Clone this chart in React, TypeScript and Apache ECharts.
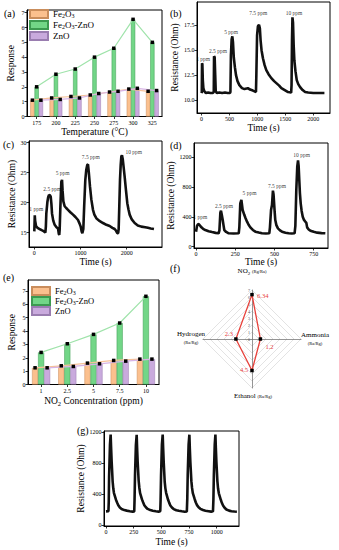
import React, { useEffect, useRef } from 'react';
import * as echarts from 'echarts';

const FONT = 'Liberation Serif';

// (a) response vs temperature
const tempCategories = ['175', '200', '225', '250', '275', '300', '325'];
const tempFe2O3 = [1.1, 1.25, 1.35, 1.45, 1.65, 1.85, 1.7];
const tempComposite = [2.0, 2.85, 3.2, 4.0, 4.6, 6.55, 5.0];
const tempZnO = [1.1, 1.15, 1.25, 1.55, 1.7, 1.9, 1.75];

// (e) response vs NO2 concentration
const concCategories = ['1', '2.5', '5', '7.5', '10'];
const concFe2O3 = [1.25, 1.4, 1.6, 1.8, 1.9];
const concComposite = [2.4, 3.05, 3.75, 4.6, 6.6];
const concZnO = [1.25, 1.35, 1.55, 1.75, 1.9];

const responseTicks = [0, 1, 2, 3, 4, 5, 6, 7];
const ppmLabels = ['1 ppm', '2.5 ppm', '5 ppm', '7.5 ppm', '10 ppm'];

// (b) Fe2O3 dynamic resistance
const bCurve = [
  [0, 10.7], [6, 10.8], [10, 13.7], [16, 13.6], [24, 12.0], [34, 11.2], [50, 10.9], [80, 10.7], [120, 10.75], [160, 10.7],
  [200, 10.7], [220, 10.8], [225, 14.4], [236, 14.3], [246, 12.5], [255, 10.9], [275, 10.7], [320, 10.75], [370, 10.7],
  [420, 10.75], [470, 10.7], [510, 10.7], [518, 10.8], [527, 14.5], [540, 16.1], [552, 16.4], [564, 15.8], [578, 14.3],
  [598, 13.3], [618, 12.5], [645, 11.9], [678, 11.5], [725, 11.2], [770, 11.1], [808, 11.15], [830, 11.2], [870, 11.05],
  [920, 10.95], [960, 10.85], [975, 10.8], [982, 12.5], [995, 16.5], [1010, 17.4], [1030, 17.55], [1045, 17.2],
  [1058, 16.0], [1075, 15.0], [1100, 14.2], [1130, 13.5], [1160, 13.0], [1200, 12.6], [1250, 12.2], [1300, 11.9],
  [1340, 11.7], [1390, 11.45], [1430, 11.2], [1490, 11.0], [1550, 10.8], [1605, 10.75], [1612, 11.5], [1620, 16.0],
  [1628, 18.3], [1638, 17.8], [1650, 15.5], [1662, 14.0], [1682, 12.9], [1705, 12.0], [1732, 11.6], [1765, 11.3],
  [1810, 11.0], [1855, 10.8], [1910, 10.75], [2000, 10.7], [2100, 10.7], [2200, 10.7]
];
const bLabelAnchors = [[30, 14.1], [295, 14.95], [530, 16.85], [1016, 18.7], [1655, 18.77]];
const bXTicks = [0, 500, 1000, 1500, 2000];
const bYTicks = [10, 12.5, 15, 17.5];

// (c) ZnO dynamic resistance
const cCurve = [
  [0, 15.2], [5, 16.5], [10, 17.9], [18, 17.0], [37, 16.1], [70, 15.8], [116, 15.6], [160, 15.4], [210, 15.2], [239, 15.0],
  [250, 16.0], [260, 18.2], [283, 20.1], [300, 20.9], [318, 21.3], [340, 21.2], [355, 21.0], [370, 19.8], [383, 18.2],
  [410, 17.0], [441, 16.3], [480, 15.9], [513, 15.7], [530, 14.8], [540, 14.6], [549, 15.5], [565, 19.5], [585, 23.5],
  [600, 23.8], [612, 22.0], [629, 20.2], [657, 19.4], [690, 19.1], [729, 18.8], [780, 18.4], [838, 18.0], [890, 17.6],
  [946, 17.1], [980, 16.5], [1004, 16.0], [1025, 15.2], [1040, 14.9], [1055, 14.9], [1061, 15.6], [1080, 19.5],
  [1104, 23.8], [1125, 25.5], [1147, 26.3], [1162, 26.4], [1180, 25.0], [1205, 22.7], [1235, 20.5], [1270, 18.8],
  [1300, 18.0], [1342, 17.4], [1400, 17.0], [1487, 16.6], [1560, 16.3], [1631, 16.1], [1690, 15.8], [1739, 15.6],
  [1770, 15.3], [1797, 14.9], [1815, 14.9], [1826, 15.6], [1840, 19.5], [1855, 23.8], [1870, 26.3], [1884, 27.7],
  [1898, 27.9], [1915, 27.2], [1935, 25.8], [1956, 24.3], [1985, 22.0], [2013, 19.9], [2040, 18.8], [2064, 18.0],
  [2110, 17.2], [2172, 16.6], [2240, 16.2], [2316, 16.0], [2400, 15.9], [2460, 15.8], [2520, 15.7], [2590, 15.6]
];
const cLabelAnchors = [[43, 18.9], [390, 22.2], [614, 24.9], [1223, 27.6], [2154, 28.5]];
const cXTicks = [0, 1000, 2000];
const cYTicks = [15, 20, 25, 30];

// (d) Fe2O3-ZnO dynamic resistance
const dCurve = [
  [0, 200], [6, 278], [12, 300], [17, 305], [25, 285], [34, 260], [45, 240], [59, 224], [80, 208], [102, 197], [125, 186],
  [144, 180], [149, 220], [155, 457], [159, 483], [164, 430], [170, 358], [175, 290], [180, 224], [192, 198], [208, 180],
  [240, 178], [272, 180], [276, 260], [282, 582], [289, 627], [293, 560], [297, 493], [308, 425], [315, 385], [325, 336],
  [335, 295], [346, 260], [362, 225], [378, 202], [400, 190], [420, 180], [445, 178], [467, 180], [471, 260], [478, 493],
  [484, 559], [490, 752], [494, 700], [497, 604], [501, 470], [505, 358], [512, 290], [522, 246], [535, 220], [548, 202],
  [570, 188], [590, 180], [610, 178], [628, 180], [633, 280], [639, 761], [645, 1074], [650, 1160], [654, 1080],
  [658, 895], [662, 720], [667, 582], [673, 480], [680, 403], [688, 360], [697, 336], [703, 320], [708, 260], [718, 232],
  [729, 215], [750, 200], [772, 189], [800, 183], [824, 180]
];
const dLabelAnchors = [[27, 394], [178, 546], [341, 716], [516, 815], [673, 1231]];
const dXTicks = [0, 250, 500, 750];
const dYTicks = [0, 400, 800, 1200];

// (g) repeatability at 10 ppm
const gCurve = [
  [0, 175], [22, 178], [25, 300], [28, 620], [36, 1035], [42, 1165], [46, 1000], [51, 820], [60, 563], [66, 470], [72, 412],
  [90, 326], [100, 290], [111, 253], [125, 225], [141, 206], [165, 192], [187, 185], [215, 178], [241, 172],
  [255, 175], [258, 330], [262, 640], [270, 1030], [277, 1162], [281, 990], [286, 810], [295, 570], [301, 480], [308, 410],
  [325, 330], [335, 292], [346, 255], [360, 228], [376, 207], [400, 192], [422, 184], [450, 177], [476, 172],
  [490, 176], [493, 320], [497, 630], [505, 1040], [512, 1165], [516, 995], [521, 815], [530, 560], [536, 475], [543, 415],
  [560, 328], [570, 288], [581, 252], [595, 226], [611, 205], [635, 190], [657, 183], [685, 176], [711, 171],
  [730, 175], [734, 340], [738, 650], [746, 1035], [753, 1163], [757, 985], [762, 805], [771, 565], [777, 478], [784, 410],
  [801, 332], [811, 290], [822, 256], [836, 228], [852, 208], [876, 193], [898, 184], [926, 178], [950, 172],
  [966, 176], [970, 330], [974, 640], [982, 1040], [988, 1165], [992, 990], [997, 812], [1006, 562], [1012, 470],
  [1019, 408], [1036, 328], [1046, 286], [1057, 250], [1071, 222], [1087, 200], [1111, 185], [1133, 177], [1160, 173],
  [1182, 171]
];
const gXTicks = [0, 250, 500, 750, 1000];
const gYTicks = [0, 400, 800, 1200];

// (f) selectivity radar
const gasNames = ['NO2', 'Hydrogen', 'Ethanol', 'Ammonia'];
const gasRatios = ['(Rg/Ra)', '(Ra/Rg)', '(Ra/Rg)', '(Ra/Rg)'];
const gasValues = [6.34, 2.3, 4.5, 1.2];
const radarMax = 7;

const ORANGE = '#FBC08E';
const GREEN = '#72D687';
const PURPLE = '#C9AADD';

const subRich = {
  s: { fontSize: 6, fontFamily: FONT, color: '#000', verticalAlign: 'bottom', padding: [4, 0, 0, 0] },
};

function legendFormatter(name: string) {
  if (name === 'Fe2O3') return 'Fe{s|2}O{s|3}';
  if (name === 'Fe2O3-ZnO') return 'Fe{s|2}O{s|3}-ZnO';
  return name;
}

function valueAxis(gridIndex: number, min: number, max: number, ticks: number[], name: string, nameGap: number, fmt?: (v: number) => string) {
  return {
    type: 'value',
    gridIndex,
    min,
    max,
    name,
    nameLocation: 'middle',
    nameGap,
    nameTextStyle: { fontFamily: FONT, fontSize: 9.5, color: '#000' },
    axisLine: { show: true, onZero: false, lineStyle: { color: '#000', width: 1 } },
    axisTick: { show: true, inside: false, length: 2.5, customValues: ticks, lineStyle: { color: '#000', width: 0.8 } },
    axisLabel: {
      fontFamily: FONT, fontSize: 6, color: '#000', margin: 2.5, customValues: ticks,
      formatter: fmt ? fmt : (v: number) => String(v),
    },
    splitLine: { show: false },
  };
}

function categoryAxis(gridIndex: number, data: string[], name: string, nameGap: number) {
  return {
    type: 'category',
    gridIndex,
    data,
    name,
    nameLocation: 'middle',
    nameGap,
    nameTextStyle: { fontFamily: FONT, fontSize: 9.5, color: '#000', rich: { s: { fontSize: 6.5, fontFamily: FONT, verticalAlign: 'bottom', padding: [4, 0, 0, 0] } } },
    axisLine: { show: true, lineStyle: { color: '#000', width: 1 } },
    axisTick: { show: true, inside: false, length: 2.5, alignWithLabel: true, lineStyle: { color: '#000', width: 0.8 } },
    axisLabel: { fontFamily: FONT, fontSize: 6, color: '#000', margin: 3 },
    splitLine: { show: false },
  };
}

function overlayAxis(gridIndex: number, n: number) {
  return { type: 'value', gridIndex, min: -0.5, max: n - 0.5, show: false };
}

function bar(name: string, data: number[], color: string, border: string, xi: number, yi: number, width: string) {
  return {
    type: 'bar', name, data, xAxisIndex: xi, yAxisIndex: yi, barWidth: width, barGap: '0%',
    itemStyle: { color, borderColor: border, borderWidth: 0.5 },
  };
}

function trend(data: number[], offset: number, color: string, xi: number, yi: number) {
  return {
    type: 'line', xAxisIndex: xi, yAxisIndex: yi, z: 5,
    data: data.map((v, i) => [i + offset, v]),
    symbol: 'rect', symbolSize: 3.5,
    itemStyle: { color: '#000' },
    lineStyle: { color, width: 1.2 },
  };
}

function curve(data: number[][], xi: number, yi: number) {
  return {
    type: 'line', xAxisIndex: xi, yAxisIndex: yi, data, symbol: 'none',
    lineStyle: { color: '#111', width: 2.6 },
  };
}

const ppmLabelStyle = {
  show: true, position: 'inside', fontFamily: FONT, fontSize: 5.5,
  color: '#000', textBorderWidth: 0, textBorderColor: 'transparent',
};

function ppm(anchors: number[][], xi: number, yi: number) {
  return {
    type: 'scatter', xAxisIndex: xi, yAxisIndex: yi, symbolSize: 0, z: 6,
    itemStyle: { color: '#000' },
    data: anchors.map((a, i) => ({
      value: a, name: ppmLabels[i],
      itemStyle: { color: '#000' },
      label: { ...ppmLabelStyle, formatter: ppmLabels[i] },
    })),
    label: { ...ppmLabelStyle, formatter: (p: any) => p.name },
  };
}

function frame(left: number, top: number, width: number, height: number) {
  return { left, top, width, height, show: true, borderColor: '#000', borderWidth: 1, backgroundColor: 'transparent', containLabel: false, outerBoundsMode: 'none' };
}

function panelLetter(text: string, x: number, y: number) {
  return { type: 'text', x, y, style: { text, fontFamily: FONT, fontSize: 10, fill: '#000', align: 'left', verticalAlign: 'middle' } };
}

const RC = [252, 339];
const RR = 49;
const dirs = [[0, -1], [-1, 0], [0, 1], [1, 0]];
const valueLabelOffsets = [[5, 1, 'left'], [-3, -6, 'right'], [-4, -1, 'right'], [5, 7, 'left']];
const nameAnchors = [[252, 271], [191, 338], [253, 396], [315, 339]];

function radarGraphics() {
  const out: any[] = [];
  gasValues.forEach((v, i) => {
    const r = (RR * v) / radarMax;
    const px = RC[0] + dirs[i][0] * r;
    const py = RC[1] + dirs[i][1] * r;
    const off = valueLabelOffsets[i];
    out.push({
      type: 'text', x: px + (off[0] as number), y: py + (off[1] as number), z: 10,
      style: { text: String(v), fontFamily: FONT, fontSize: 6.5, fill: '#E8403A', align: off[2], verticalAlign: 'middle' },
    });
  });
  gasNames.forEach((n, i) => {
    const [x, y] = nameAnchors[i];
    const label = n === 'NO2' ? 'NO{s|2} {r|' + gasRatios[i] + '}' : n === 'Ethanol' ? n + ' {r|' + gasRatios[i] + '}' : n + '\n{r|' + gasRatios[i] + '}';
    out.push({
      type: 'text', x, y, z: 10,
      style: {
        text: label, fontFamily: FONT, fontSize: 7, fill: '#000', align: 'center', verticalAlign: 'middle', lineHeight: 9,
        rich: {
          s: { fontSize: 5, fontFamily: FONT, verticalAlign: 'bottom', padding: [3, 0, 0, 0] },
          r: { fontSize: 4.5, fontFamily: FONT },
        },
      },
    });
  });
  return out;
}

export default function App() {
  const ref = useRef<HTMLDivElement>(null);
  useEffect(() => {
    if (!ref.current) return;
    const chart = echarts.init(ref.current, undefined, { renderer: 'svg' });
    const option: any = {
      animation: false,
      backgroundColor: '#fff',
      textStyle: { fontFamily: FONT },
      grid: [
        frame(27, 10, 135, 106.5), // a
        frame(197, 2, 133, 111), // b
        frame(29, 141, 133, 106), // c
        frame(194, 143, 134, 105), // d
        frame(28, 280, 131, 104.5), // e
        frame(104, 431, 135, 95), // g
      ],
      xAxis: [
        categoryAxis(0, tempCategories, 'Temperature (°C)', 10),
        overlayAxis(0, tempCategories.length),
        valueAxis(1, -80, 2300, bXTicks, 'Time (s)', 10),
        valueAxis(2, -115, 2764, cXTicks, 'Time (s)', 10),
        valueAxis(3, -13, 841, dXTicks, 'Time (s)', 8),
        categoryAxis(4, concCategories, 'NO{s|2} Concentration (ppm)', 11),
        overlayAxis(4, concCategories.length),
        valueAxis(5, -18, 1201, gXTicks, 'Time (s)', 11),
      ],
      yAxis: [
        valueAxis(0, 0, 7.18, responseTicks, 'Response', 11),
        valueAxis(1, 8.7, 19.84, bYTicks, 'Resistance (Ohm)', 15, (v: number) => v.toFixed(1)),
        valueAxis(2, 12.6, 30.28, cYTicks, 'Resistance (Ohm)', 11),
        valueAxis(3, -17, 1392, dYTicks, 'Resistance (Ohm)', 14),
        valueAxis(4, 0, 7.82, responseTicks, 'Response', 11),
        valueAxis(5, -13, 1211, gYTicks, 'Resistance (Ohm)', 14),
      ],
      legend: [
        {
          data: ['Fe2O3', 'Fe2O3-ZnO', 'ZnO'], orient: 'vertical', left: 29, top: 9,
          itemWidth: 18, itemHeight: 8, itemGap: 1, icon: 'rect', padding: 0,
          formatter: legendFormatter,
          textStyle: { fontFamily: FONT, fontSize: 9, color: '#000', rich: subRich },
        },
        {
          data: ['Fe2O3', 'Fe2O3-ZnO', 'ZnO'], orient: 'vertical', left: 31, top: 286,
          itemWidth: 18, itemHeight: 8, itemGap: 0, icon: 'rect', padding: 0,
          formatter: legendFormatter,
          textStyle: { fontFamily: FONT, fontSize: 8.5, color: '#000', rich: subRich },
        },
      ],
      radar: {
        center: RC, radius: RR, startAngle: 90, shape: 'polygon', splitNumber: 7,
        indicator: gasNames.map((n, i) => ({
          name: n, max: radarMax, min: 0,
          ...(i === 0 ? { axisLabel: { show: true, fontSize: 4, color: '#444', fontFamily: FONT, margin: 2 } } : {}),
        })),
        axisName: { show: false },
        axisLabel: { show: false },
        splitLine: { lineStyle: { color: '#d0d0d0', width: 0.6 } },
        splitArea: { show: false },
        axisLine: { lineStyle: { color: '#7a7a7a', width: 0.8 } },
        axisTick: { show: false },
      },
      series: [
        bar('Fe2O3', tempFe2O3, ORANGE, '#c98d5c', 0, 0, '22%'),
        bar('Fe2O3-ZnO', tempComposite, GREEN, '#3c9a50', 0, 0, '22%'),
        bar('ZnO', tempZnO, PURPLE, '#9a7db0', 0, 0, '22%'),
        trend(tempFe2O3, -0.22, '#F6C29A', 1, 0),
        trend(tempZnO, 0.22, '#D8B4E4', 1, 0),
        trend(tempComposite, 0, '#9FE3AA', 1, 0),
        curve(bCurve, 2, 1),
        ppm(bLabelAnchors, 2, 1),
        curve(cCurve, 3, 2),
        ppm(cLabelAnchors, 3, 2),
        curve(dCurve, 4, 3),
        ppm(dLabelAnchors, 4, 3),
        bar('Fe2O3', concFe2O3, ORANGE, '#c98d5c', 5, 4, '23%'),
        bar('Fe2O3-ZnO', concComposite, GREEN, '#3c9a50', 5, 4, '23%'),
        bar('ZnO', concZnO, PURPLE, '#9a7db0', 5, 4, '23%'),
        trend(concFe2O3, -0.23, '#F6C29A', 6, 4),
        trend(concZnO, 0.23, '#D8B4E4', 6, 4),
        trend(concComposite, 0, '#9FE3AA', 6, 4),
        curve(gCurve, 7, 5),
        {
          type: 'radar', z: 5,
          data: [{ value: gasValues, name: 'Selectivity' }],
          symbol: 'rect', symbolSize: 3.5,
          itemStyle: { color: '#000' },
          lineStyle: { color: '#E8403A', width: 1.3 },
        },
      ],
      graphic: [
        panelLetter('(a)', 4, 13),
        panelLetter('(b)', 170, 13),
        panelLetter('(c)', 3, 144),
        panelLetter('(d)', 170, 145),
        panelLetter('(e)', 3, 277),
        panelLetter('(f)', 170, 268),
        panelLetter('(g)', 77, 430),
        ...radarGraphics(),
      ],
    };
    chart.setOption(option);
    return () => chart.dispose();
  }, []);
  return <div ref={ref} style={{ position: 'absolute', left: 0, top: 0, width: 339, height: 550, background: '#fff' }} />;
}
